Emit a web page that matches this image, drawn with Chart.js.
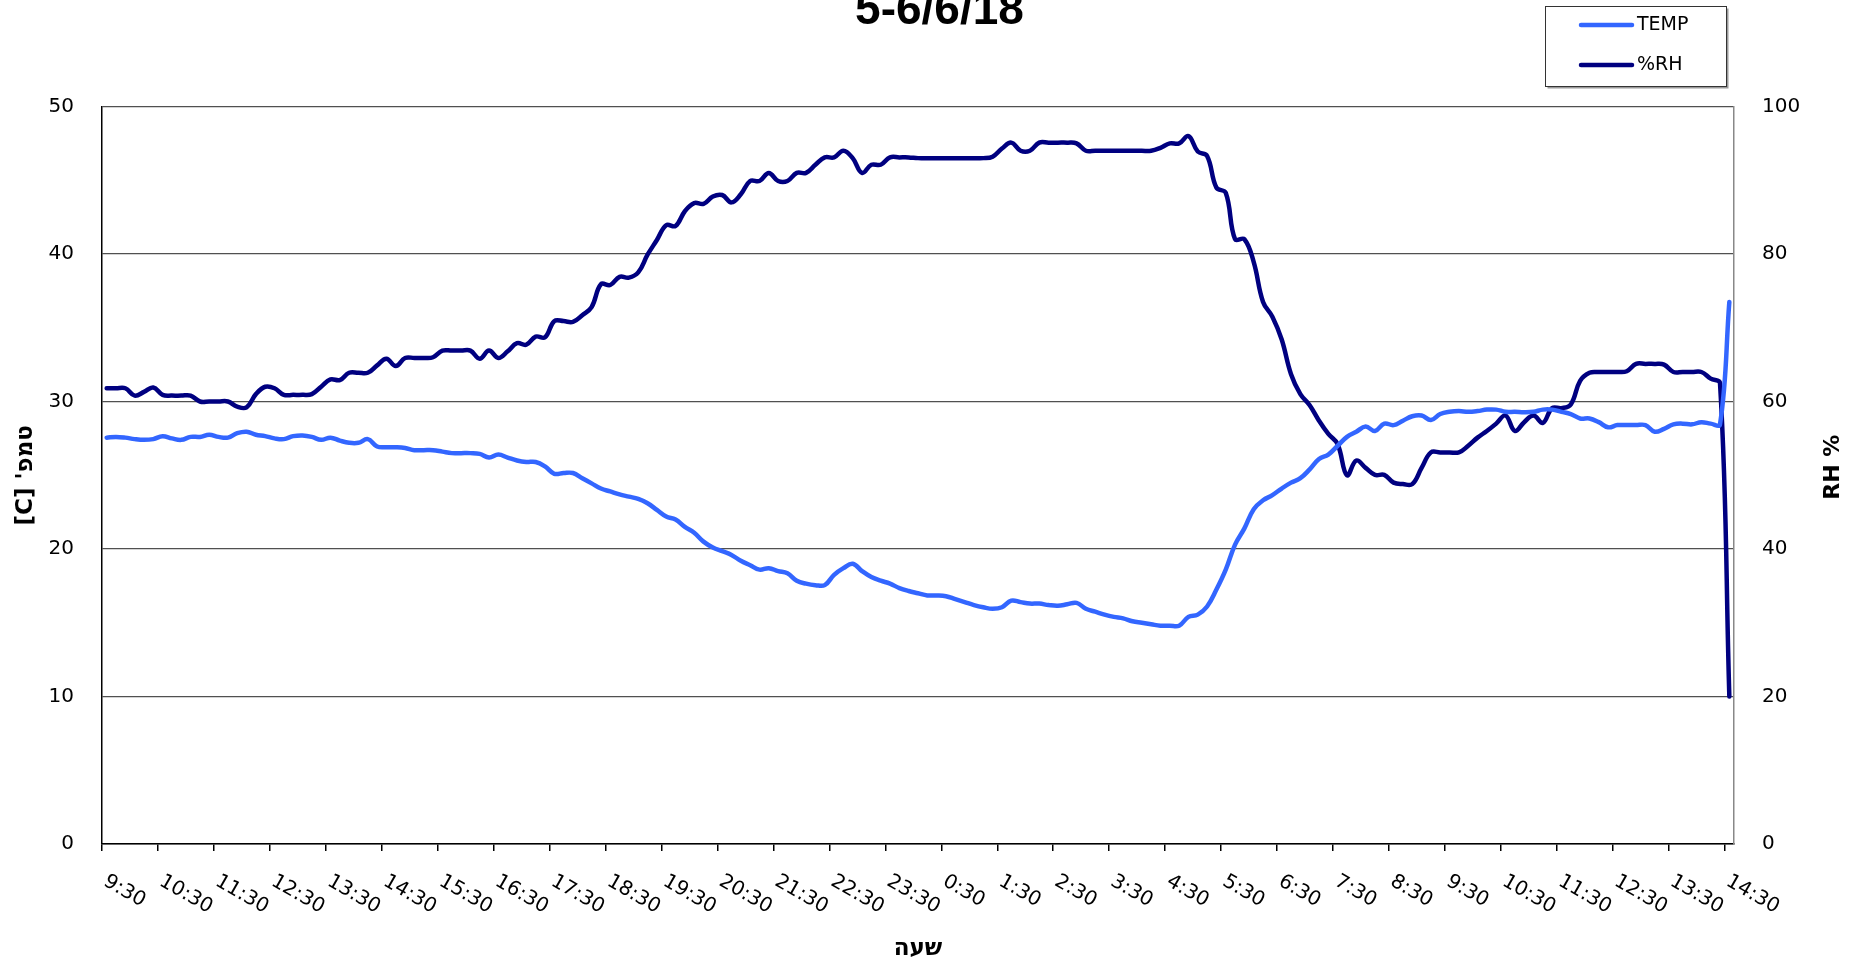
<!DOCTYPE html>
<html lang="he">
<head>
<meta charset="utf-8">
<title>5-6/6/18</title>
<script src="https://cdn.jsdelivr.net/npm/chart.js@4.4.1/dist/chart.umd.min.js"></script>
<style>
  html, body { margin: 0; padding: 0; background: #fff; }
  #wrap { width: 1856px; height: 966px; }
</style>
</head>
<body>
<div id="wrap"><canvas id="chart" width="1856" height="966"></canvas></div>
<script>
// hour tick labels, one every 6 readings
const hourLabels = ['9:30', '10:30', '11:30', '12:30', '13:30', '14:30', '15:30', '16:30',
  '17:30', '18:30', '19:30', '20:30', '21:30', '22:30', '23:30', '0:30', '1:30', '2:30',
  '3:30', '4:30', '5:30', '6:30', '7:30', '8:30', '9:30', '10:30', '11:30', '12:30',
  '13:30', '14:30'];

// TEMP [C], reading every 10 minutes from 9:30
const temp = [
  27.55, 27.6, 27.55, 27.45, 27.4, 27.45, 27.65, 27.5, 27.4, 27.6,
  27.6, 27.75, 27.6, 27.55, 27.85, 27.95, 27.75, 27.65, 27.5, 27.45,
  27.65, 27.7, 27.6, 27.4, 27.55, 27.35, 27.2, 27.2, 27.45, 26.95,
  26.9, 26.9, 26.85, 26.7, 26.7, 26.7, 26.6, 26.5, 26.5, 26.5,
  26.45, 26.2, 26.4, 26.2, 26.0, 25.9, 25.9, 25.6, 25.1, 25.15,
  25.15, 24.8, 24.45, 24.1, 23.9, 23.7, 23.55, 23.4, 23.1, 22.65,
  22.2, 22.0, 21.5, 21.1, 20.5, 20.1, 19.85, 19.6, 19.2, 18.9,
  18.6, 18.7, 18.5, 18.35, 17.85, 17.65, 17.55, 17.55, 18.25, 18.7,
  19.0, 18.5, 18.1, 17.85, 17.65, 17.35, 17.15, 17.0, 16.85, 16.85,
  16.8, 16.6, 16.4, 16.2, 16.05, 15.95, 16.05, 16.5, 16.4, 16.3,
  16.3, 16.2, 16.15, 16.25, 16.35, 15.95, 15.75, 15.55, 15.4, 15.3,
  15.1, 15.0, 14.9, 14.8, 14.8, 14.8, 15.4, 15.55, 16.1, 17.25,
  18.6, 20.3, 21.4, 22.7, 23.3, 23.65, 24.1, 24.5, 24.8, 25.4,
  26.1, 26.4, 27.0, 27.6, 27.95, 28.3, 28.0, 28.5, 28.4, 28.7,
  29.0, 29.05, 28.75, 29.15, 29.3, 29.35, 29.3, 29.35, 29.45, 29.45,
  29.3, 29.3, 29.27, 29.3, 29.45, 29.45, 29.3, 29.15, 28.85, 28.85,
  28.6, 28.25, 28.4, 28.4, 28.4, 28.4, 27.95, 28.15, 28.45, 28.5,
  28.45, 28.6, 28.5, 28.45, 36.75
];

// %RH, same readings
const rh = [
  61.8, 61.8, 61.8, 60.8, 61.3, 61.9, 60.9, 60.8, 60.8, 60.8,
  60.0, 60.0, 60.0, 60.0, 59.3, 59.2, 61.0, 62.0, 61.8, 60.9,
  60.9, 60.9, 61.0, 62.0, 63.0, 62.9, 63.9, 63.9, 63.9, 64.9,
  65.8, 64.8, 65.9, 65.9, 65.9, 66.0, 66.9, 66.9, 66.9, 66.9,
  65.8, 66.9, 65.9, 66.8, 67.9, 67.7, 68.8, 68.7, 70.9, 70.9,
  70.8, 71.7, 72.8, 75.9, 75.8, 76.9, 76.8, 77.5, 79.9, 81.9,
  83.9, 83.8, 85.8, 86.9, 86.8, 87.8, 88.0, 87.0, 88.1, 89.9,
  89.9, 91.0, 89.9, 89.9, 91.0, 91.0, 92.1, 93.1, 93.1, 94.0,
  93.0, 91.0, 92.1, 92.1, 93.1, 93.1, 93.1, 93.0, 93.0, 93.0,
  93.0, 93.0, 93.0, 93.0, 93.0, 93.2, 94.3, 95.1, 94.0, 94.0,
  95.1, 95.1, 95.1, 95.1, 95.0, 94.0, 94.0, 94.0, 94.0, 94.0,
  94.0, 94.0, 94.0, 94.4, 95.0, 95.0, 96.0, 93.9, 93.3, 89.0,
  88.3, 82.0, 82.0, 78.9, 73.5, 71.5, 68.4, 63.7, 61.0, 59.5,
  57.4, 55.6, 54.2, 50.0, 52.0, 51.0, 50.05, 50.05, 49.0, 48.8,
  48.8, 51.0, 53.1, 53.1, 53.1, 53.1, 54.0, 55.1, 56.0, 57.0,
  58.1, 56.0, 57.2, 58.1, 57.1, 59.1, 59.1, 59.6, 62.8, 63.9,
  64.0, 64.0, 64.0, 64.1, 65.1, 65.1, 65.1, 65.0, 64.0, 64.0,
  64.0, 64.0, 63.1, 62.5, 20.0
];

const TEMP_COLOR = '#3366ff';
const RH_COLOR = '#000080';
const FONT = '"DejaVu Sans", sans-serif';

// category for every reading (10 min steps)
const times = [];
for (let k = 0; k < temp.length; k++) {
  const m = (9 * 60 + 30 + k * 10) % (24 * 60);
  times.push(Math.floor(m / 60) + ':' + String(m % 60).padStart(2, '0'));
}

// rotated hour labels, right axis title and the boxed legend
const extras = {
  id: 'extras',
  afterDraw(chart) {
    const { ctx, chartArea, scales } = chart;
    const x = scales.x;
    const half = (x.getPixelForValue(1) - x.getPixelForValue(0)) / 2;

    ctx.save();
    ctx.fillStyle = '#000';
    ctx.font = '20px ' + FONT;
    ctx.textAlign = 'left';
    ctx.textBaseline = 'middle';
    for (let i = 0; i < times.length; i += 6) {
      const px = x.getPixelForValue(i) - half;
      ctx.save();
      ctx.translate(px + 3, chartArea.bottom + 36);
      ctx.rotate(Math.PI / 6);
      ctx.fillText(hourLabels[i / 6], 0, 0);
      ctx.restore();
    }

    // right axis title reads bottom to top like the left one
    ctx.save();
    ctx.font = 'bold 22px ' + FONT;
    ctx.textAlign = 'center';
    ctx.translate(1833, (chartArea.top + chartArea.bottom) / 2 - 8);
    ctx.rotate(-Math.PI / 2);
    ctx.fillText('RH %', 0, 0);
    ctx.restore();

    // legend
    const lx = 1545.5, ly = 6.5, lw = 181, lh = 80;
    ctx.fillStyle = '#9a9a9a';
    ctx.fillRect(lx + 2, ly + 2, lw, lh);
    ctx.fillStyle = '#fff';
    ctx.fillRect(lx, ly, lw, lh);
    ctx.strokeStyle = '#333';
    ctx.lineWidth = 1;
    ctx.strokeRect(lx, ly, lw, lh);
    ctx.lineCap = 'round';
    ctx.lineWidth = 4.5;
    [['TEMP', TEMP_COLOR, 25], ['%RH', RH_COLOR, 65]].forEach(([txt, col, yy]) => {
      ctx.strokeStyle = col;
      ctx.beginPath();
      ctx.moveTo(1581, yy);
      ctx.lineTo(1632, yy);
      ctx.stroke();
      ctx.fillStyle = '#000';
      ctx.font = '19px ' + FONT;
      ctx.textAlign = 'left';
      ctx.fillText(txt, 1637, yy);
    });
    ctx.restore();
  }
};

const tickFont = { family: FONT, size: 20 };
const titleFont = { family: FONT, size: 23, weight: 'bold' };

new Chart(document.getElementById('chart'), {
  type: 'line',
  data: {
    labels: times,
    datasets: [
      {
        label: 'TEMP',
        data: temp,
        yAxisID: 'y',
        borderColor: TEMP_COLOR,
        borderWidth: 4.5,
        pointRadius: 0,
        tension: 0.4,
        borderCapStyle: 'round',
        borderJoinStyle: 'round'
      },
      {
        label: '%RH',
        data: rh,
        yAxisID: 'y1',
        borderColor: RH_COLOR,
        borderWidth: 4.5,
        pointRadius: 0,
        tension: 0.4,
        borderCapStyle: 'round',
        borderJoinStyle: 'round'
      }
    ]
  },
  options: {
    responsive: false,
    animation: false,
    devicePixelRatio: 1,
    events: [],
    layout: { padding: 0 },
    plugins: {
      legend: { display: false },
      tooltip: { enabled: false },
      title: {
        display: true,
        text: '\u20025-6/6/18',
        color: '#000',
        font: { family: '"Liberation Sans", sans-serif', size: 46, weight: 'bold', lineHeight: 1.2 },
        padding: { top: -16.6, bottom: 67.9 }
      }
    },
    scales: {
      x: {
        type: 'category',
        offset: true,
        afterFit: s => { s.height = 122; },
        grid: {
          offset: true,
          drawOnChartArea: false,
          drawTicks: true,
          tickLength: 7,
          lineWidth: 1.5,
          color: c => (c.index % 6 === 0 ? '#000' : 'rgba(0,0,0,0)')
        },
        border: { color: '#000', width: 1.5 },
        ticks: { display: false },
        title: {
          display: true,
          text: '\u202Bשעה\u202C',
          color: '#000',
          font: titleFont,
          padding: { top: 0, bottom: 3 }
        }
      },
      y: {
        position: 'left',
        min: 0,
        max: 50,
        afterFit: s => { s.width = 102; },
        ticks: { stepSize: 10, color: '#000', font: tickFont, padding: 28 },
        grid: { color: '#505050', lineWidth: 1.2, drawTicks: false },
        border: { color: '#000', width: 1.5 },
        title: {
          display: true,
          text: '\u202Bטמפ\' [C]\u202C',
          color: '#000',
          font: titleFont,
          padding: { top: 12, bottom: 0 }
        }
      },
      y1: {
        position: 'right',
        min: 0,
        max: 100,
        afterFit: s => { s.width = 122; },
        ticks: { stepSize: 20, color: '#000', font: tickFont, padding: 28 },
        grid: { drawOnChartArea: false, drawTicks: false },
        border: { color: '#888', width: 1.5 }
      }
    }
  },
  plugins: [extras]
});
</script>
</body>
</html>
